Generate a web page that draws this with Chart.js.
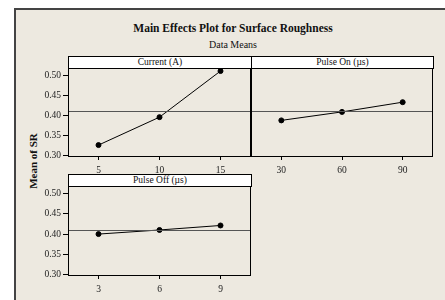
<!DOCTYPE html>
<html>
<head>
<meta charset="utf-8">
<script src="https://cdn.jsdelivr.net/npm/chart.js@4.4.1/dist/chart.umd.min.js"></script>
<style>
  body { margin: 0; width: 445px; height: 300px; overflow: hidden; background: #fff; font-family: "Liberation Serif", "DejaVu Serif", serif; }
  #frame { position: absolute; left: 14px; top: 8px; width: 460px; height: 320px; background: #ede9e0; border: 2px solid #444; box-sizing: border-box; }
  .txt { position: absolute; text-align: center; color: #111; white-space: nowrap; }
  .strip { position: absolute; height: 13px; background: #fff; border: 1px solid #000; box-sizing: border-box; font-size: 9.5px; line-height: 11px; text-align: center; color: #111; }
  canvas { position: absolute; }
</style>
</head>
<body>
<div id="frame"></div>
<div class="txt" style="left:0;width:466px;top:22px;font-size:11.5px;font-weight:bold;">Main Effects Plot for Surface Roughness</div>
<div class="txt" style="left:0;width:466px;top:39px;font-size:10px;">Data Means</div>
<div class="txt" style="left:3px;top:155px;width:60px;font-size:11px;font-weight:bold;transform:rotate(-90deg);transform-origin:30px 6px;">Mean of SR</div>

<div class="strip" style="left:68px;top:56px;width:184px;" id="s1"></div>
<div class="strip" style="left:251px;top:56px;width:183px;" id="s2"></div>
<div class="strip" style="left:68px;top:174px;width:184px;" id="s3"></div>

<canvas id="c1" width="224" height="111" style="left:28px;top:68px;"></canvas>
<canvas id="c2" width="183" height="111" style="left:251px;top:68px;"></canvas>
<canvas id="c3" width="224" height="112" style="left:28px;top:186px;"></canvas>

<script>
const currentLevels = ['5', '10', '15'];
const currentMeans = [0.327, 0.396, 0.510];
const pulseOnLevels = ['30', '60', '90'];
const pulseOnMeans = [0.388, 0.409, 0.433];
const pulseOffLevels = ['3', '6', '9'];
const pulseOffMeans = [0.400, 0.410, 0.421];
const grandMean = 0.41;
const yTicks = [0.30, 0.35, 0.40, 0.45, 0.50];
const yMin = 0.2975, yMax = 0.5175;

const panelTitles = ['Current (A)', 'Pulse On (\u00b5s)', 'Pulse  Off (\u00b5s)'];
document.getElementById('s1').textContent = panelTitles[0];
document.getElementById('s2').textContent = panelTitles[1];
document.getElementById('s3').textContent = panelTitles[2];

const font = { family: '"Liberation Serif", "DejaVu Serif", serif', size: 9.5 };

// box round the plot area and the grand-mean line
const panelDeco = {
  id: 'panelDeco',
  afterDatasetsDraw(chart) {
    const { ctx, chartArea: a, scales } = chart;
    ctx.save();
    const y = Math.round(scales.y.getPixelForValue(grandMean)) + 0.5;
    ctx.strokeStyle = '#555';
    ctx.lineWidth = 1;
    ctx.beginPath();
    ctx.moveTo(a.left, y);
    ctx.lineTo(a.right, y);
    ctx.stroke();
    ctx.strokeStyle = '#000';
    ctx.strokeRect(Math.round(a.left) + 0.5, Math.round(a.top) + 0.5,
      Math.round(a.right - a.left) - 1, Math.round(a.bottom - a.top) - 1);
    ctx.restore();
  }
};

function makePanel(id, labels, values, showY) {
  new Chart(document.getElementById(id), {
    type: 'line',
    data: {
      labels: labels,
      datasets: [{
        data: values,
        borderColor: '#000',
        backgroundColor: '#000',
        borderWidth: 1,
        pointRadius: 2.5,
        pointHoverRadius: 2.5,
        tension: 0
      }]
    },
    options: {
      responsive: false,
      animation: false,
      events: [],
      layout: { autoPadding: false, padding: { left: 0, right: 1, top: 0, bottom: 0 } },
      plugins: { legend: { display: false }, tooltip: { enabled: false } },
      scales: {
        x: {
          offset: true,
          grid: { display: true, drawOnChartArea: false, drawTicks: true, tickLength: 3, color: '#000', offset: false },
          border: { display: false },
          ticks: { color: '#222', font: font, padding: 5, maxRotation: 0 },
          afterFit(axis) { axis.height = 22; axis.paddingLeft = 0; axis.paddingRight = 0; }
        },
        y: {
          display: showY,
          min: yMin,
          max: yMax,
          afterBuildTicks(axis) { axis.ticks = yTicks.map(v => ({ value: v })); },
          grid: { display: true, drawOnChartArea: false, drawTicks: true, tickLength: 5, color: '#000' },
          border: { display: false },
          ticks: { color: '#222', font: font, padding: 2, callback: v => Number(v).toFixed(2) },
          afterFit(axis) { axis.width = showY ? 40 : 0; axis.paddingTop = 0; axis.paddingBottom = 0; }
        }
      }
    },
    plugins: [panelDeco]
  });
}

makePanel('c1', currentLevels, currentMeans, true);
makePanel('c2', pulseOnLevels, pulseOnMeans, false);
makePanel('c3', pulseOffLevels, pulseOffMeans, true);
</script>
</body>
</html>
